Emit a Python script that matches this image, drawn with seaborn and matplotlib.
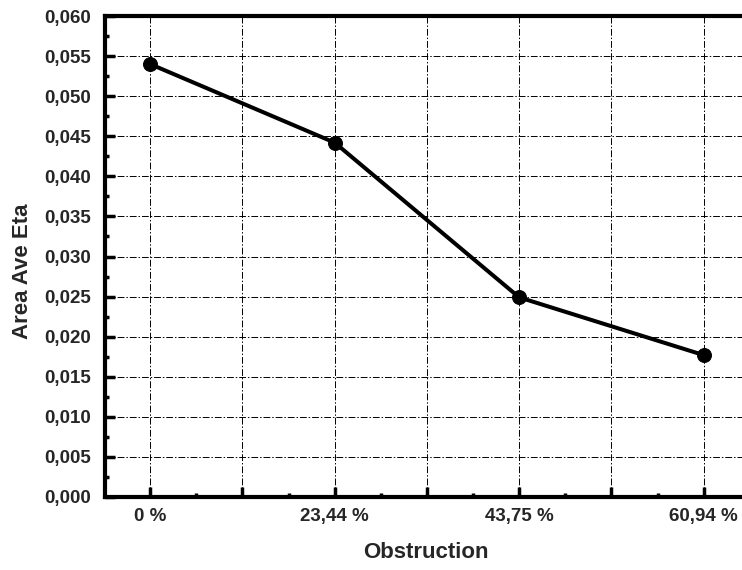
import matplotlib
matplotlib.use("Agg")
import matplotlib.pyplot as plt
import matplotlib.ticker as mticker
import numpy as np
import pandas as pd
import seaborn as sns

categories = ["0 %", "23,44 %", "43,75 %", "60,94 %"]
area_ave_eta = [0.0540, 0.0442, 0.0249, 0.0177]

sns.set_theme(style="white")
plt.rcParams['font.family'] = ['Liberation Sans', 'DejaVu Sans']
plt.rcParams['font.weight'] = 'bold'

df = pd.DataFrame({"pos": np.arange(len(categories)), "val": area_ave_eta})

fig = plt.figure(figsize=(7.42, 5.70), dpi=100)
W, H = 742, 570
left, right, top, bottom = 105, 748, 16, 497
ax = fig.add_axes([left / W, 1 - bottom / H, (right - left) / W, (bottom - top) / H])

sns.lineplot(data=df, x="pos", y="val", ax=ax, color="black", linewidth=2.9,
             marker="o", markersize=10, markeredgecolor="black", zorder=5)

ax.set_xlim(-0.245, 3.24)
ax.set_ylim(0, 0.060)

ax.xaxis.set_major_locator(mticker.MultipleLocator(0.5))
ax.xaxis.set_minor_locator(mticker.MultipleLocator(0.25))
ax.yaxis.set_major_locator(mticker.MultipleLocator(0.005))
ax.yaxis.set_minor_locator(mticker.MultipleLocator(0.0025))


def xfmt(v, p):
    i = int(round(v))
    if abs(v - i) < 1e-6 and 0 <= i < len(categories):
        return categories[i]
    return ""


ax.xaxis.set_major_formatter(mticker.FuncFormatter(xfmt))
ax.yaxis.set_major_formatter(mticker.FuncFormatter(lambda v, p: f"{v:.3f}".replace(".", ",")))

ax.grid(True, which="major", color="black", linewidth=0.7, linestyle=(0, (7, 2, 1.5, 2)))
ax.set_axisbelow(True)

for s in ["left", "bottom", "top"]:
    ax.spines[s].set_visible(True)
    ax.spines[s].set_color("black")
    ax.spines[s].set_linewidth(3)
ax.spines["right"].set_visible(False)

ax.tick_params(axis="both", which="major", direction="in", length=7, width=2.5,
               color="black", labelsize=13.5, pad=10, bottom=True, left=True)
ax.tick_params(axis="both", which="minor", direction="in", length=3, width=2.5,
               color="black", bottom=True, left=True)
ax.tick_params(axis="x", which="major", pad=8)
for lab in ax.get_xticklabels() + ax.get_yticklabels():
    lab.set_fontweight("bold")

ax.set_xlabel("Obstruction", fontsize=16, fontweight="bold")
ax.set_ylabel("Area Ave Eta", fontsize=16, fontweight="bold")
ax.xaxis.set_label_coords((426 - left) / (right - left), -(552 - bottom) / (bottom - top))
ax.yaxis.set_label_coords(-(105 - 23) / (right - left), (bottom - 271) / (bottom - top))
ax.xaxis.label.set_va("center")
ax.yaxis.label.set_va("center")

fig.savefig("out.png", dpi=100)
